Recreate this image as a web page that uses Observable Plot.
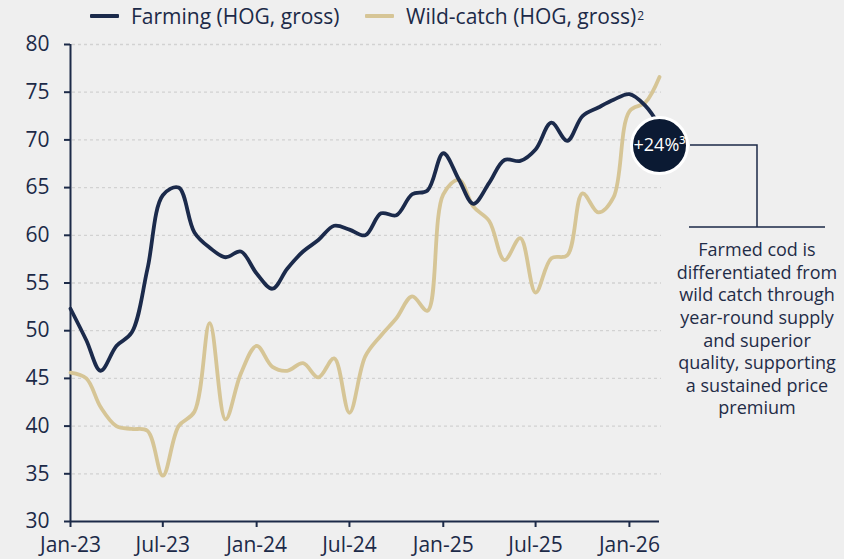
<!DOCTYPE html>
<html><head><meta charset="utf-8">
<script src="https://cdn.jsdelivr.net/npm/d3@7"></script>
<script src="https://cdn.jsdelivr.net/npm/@observablehq/plot@0.6"></script>
<style>
html,body{margin:0;padding:0;background:#efefef;}
body{width:844px;height:559px;overflow:hidden;font-family:"Open Sans",sans-serif;color:#1c2a48;}
#legend{position:relative;height:30px;font-size:21px;}
#legend .item{position:absolute;top:2px;display:flex;align-items:center;white-space:nowrap;line-height:28px;}
#legend .sw{display:inline-block;width:29px;height:4px;margin-right:12px;border-radius:1px;}
#legend sup{font-size:12px;vertical-align:8px;margin-left:1px;}
#chart svg{display:block;}
</style></head><body>
<div id="legend"></div>
<div id="chart"></div>
<script>
const months = [
"2023-01","2023-02","2023-03","2023-04","2023-05","2023-06","2023-07","2023-08","2023-09","2023-10","2023-11","2023-12",
"2024-01","2024-02","2024-03","2024-04","2024-05","2024-06","2024-07","2024-08","2024-09","2024-10","2024-11","2024-12",
"2025-01","2025-02","2025-03","2025-04","2025-05","2025-06","2025-07","2025-08","2025-09","2025-10","2025-11","2025-12",
"2026-01","2026-02","2026-03"];
const farming = [
52.3,49.0,45.8,48.4,49.8,56.5,64.2,65.0,60.3,58.7,57.7,58.3,
56.0,54.4,56.5,58.3,59.5,61.0,60.6,60.0,62.3,62.1,64.3,64.7,
68.6,65.8,63.3,65.5,67.9,67.8,69.0,71.8,69.9,72.5,73.4,74.2,
74.8,73.6,71.5];
const wildCatch = [
45.6,45.0,42.0,40.0,39.7,39.5,34.8,40.0,41.5,50.8,40.7,45.5,
48.4,46.2,45.8,46.6,45.1,47.1,41.4,47.3,49.5,51.3,53.6,52.1,
64.3,65.8,63.0,61.5,57.4,59.7,54.0,57.6,57.9,64.4,62.4,64.0,
73.0,73.9,76.6];
const seriesNames = ["Farming (HOG, gross)", "Wild-catch (HOG, gross)"];
const seriesNotes = ["", "2"];
const seriesColors = ["#1b2a4b", "#d6c596"];
const yTicks = [30,35,40,45,50,55,60,65,70,75,80];
const xTickMonths = ["2023-01","2023-07","2024-01","2024-07","2025-01","2025-07","2026-01"];
const xTickLabels = ["Jan-23","Jul-23","Jan-24","Jul-24","Jan-25","Jul-25","Jan-26"];
const premium = {month: "2026-03", value: 69.4, label: "+24%³"};
const noteLines = ["Farmed cod is","differentiated from","wild catch through","year-round supply","and superior","quality, supporting","a sustained price","premium"];

const parse = d3.utcParse("%Y-%m");
const rows = [];
months.forEach((m, i) => {
  rows.push({date: parse(m), value: farming[i], series: seriesNames[0]});
  rows.push({date: parse(m), value: wildCatch[i], series: seriesNames[1]});
});
const xDomain = [parse(months[0]), parse(months[months.length - 1])];
const tickDates = xTickMonths.map(parse);
const labelOf = new Map(tickDates.map((d, i) => [+d, xTickLabels[i]]));

// legend
const legend = document.getElementById("legend");
const legendX = [90, 365];
seriesNames.forEach((name, i) => {
  const it = document.createElement("div");
  it.className = "item";
  it.style.left = legendX[i] + "px";
  it.innerHTML = `<span class="sw" style="background:${seriesColors[i]}"></span><span>${name}</span>` + (seriesNotes[i] ? `<sup>${seriesNotes[i]}</sup>` : "");
  legend.appendChild(it);
});

const ink = "#1c2a48";
const annotation = (index, scales) => {
  const cx = scales.x(parse(premium.month));
  const cy = scales.y(premium.value);
  const g = d3.create("svg:g");
  g.append("path")
    .attr("d", `M${cx + 31},${cy}H${cx + 98}V${cy + 82}M${cx + 30},${cy + 82}H${cx + 166}`)
    .attr("fill", "none").attr("stroke", ink).attr("stroke-width", 1.5);
  const t = g.append("text")
    .attr("text-anchor", "middle")
    .attr("fill", "#1f2c47")
    .attr("font-size", 18)
    .attr("font-family", "Open Sans, sans-serif");
  noteLines.forEach((line, i) => {
    t.append("tspan").attr("x", cx + 98).attr("y", cy + 111 + i * 22.6).text(line);
  });
  return g.node();
};

const chart = Plot.plot({
  width: 844,
  height: 529,
  marginLeft: 70,
  marginRight: 185,
  marginTop: 14,
  marginBottom: 38,
  style: {background: "#efefef", fontFamily: "Open Sans, sans-serif", fontSize: "21px", color: ink, overflow: "visible"},
  x: {type: "utc", domain: xDomain},
  y: {domain: [30, 80]},
  color: {domain: seriesNames, range: seriesColors},
  marks: [
    Plot.ruleY(yTicks.slice(1), {x1: xDomain[0], x2: xDomain[1], stroke: "#d2d2d2", strokeWidth: 1.3, strokeDasharray: "3,3", dx: 2}),
    Plot.axisY({ticks: yTicks, tickSize: 6, tickPadding: 15, label: null, stroke: ink, strokeWidth: 2, fill: ink}),
    Plot.axisX({ticks: tickDates, tickFormat: d => labelOf.get(+d), tickSize: 6, tickPadding: 10, label: null, stroke: ink, strokeWidth: 2, fill: ink}),
    Plot.ruleX([xDomain[0]], {y1: 30, y2: 80, stroke: ink, strokeWidth: 2}),
    Plot.ruleY([30], {x1: xDomain[0], x2: xDomain[1], stroke: ink, strokeWidth: 2}),
    Plot.line(rows, {x: "date", y: "value", z: "series", stroke: "series", strokeWidth: 3.8, curve: "catmull-rom", sort: {channel: "z", order: "descending"}}),
    Plot.dot([premium], {x: d => parse(d.month), y: "value", r: 28, fill: "#0b1a33", stroke: "white", strokeWidth: 3}),
    Plot.text([premium], {x: d => parse(d.month), y: "value", text: "label", fill: "white", fontSize: 18, dx: 0}),
    annotation
  ]
});
document.getElementById("chart").appendChild(chart);
</script>
</body></html>
